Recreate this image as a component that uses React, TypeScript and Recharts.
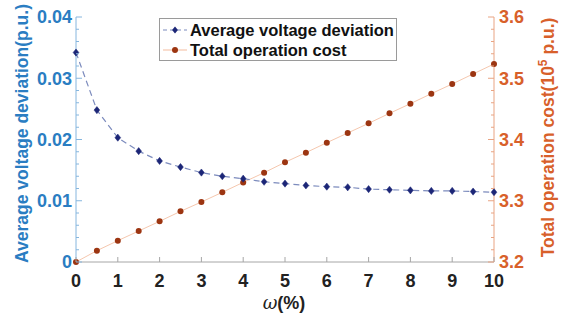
import React from 'react';
import { LineChart, Line, XAxis, YAxis, Legend } from 'recharts';

const omega = [0, 0.5, 1, 1.5, 2, 2.5, 3, 3.5, 4, 4.5, 5, 5.5, 6, 6.5, 7, 7.5, 8, 8.5, 9, 9.5, 10];
const voltageDeviation = [0.0342, 0.0248, 0.0203, 0.0181, 0.0165, 0.0155, 0.0146, 0.0140, 0.0136, 0.0131, 0.0128, 0.0125, 0.0123, 0.0122, 0.0119, 0.0118, 0.0117, 0.0116, 0.0116, 0.0115, 0.0114];
const operationCost = [3.2, 3.2185, 3.2348, 3.2506, 3.2664, 3.2827, 3.298, 3.3138, 3.330, 3.3458, 3.3628, 3.3785, 3.3948, 3.4106, 3.4264, 3.4427, 3.4585, 3.4748, 3.4906, 3.507, 3.5233];

const xTicks = [0, 1, 2, 3, 4, 5, 6, 7, 8, 9, 10];
const leftMajor = [0, 0.01, 0.02, 0.03, 0.04];
const leftTicks = [0, 0.002, 0.004, 0.006, 0.008, 0.01, 0.012, 0.014, 0.016, 0.018, 0.02, 0.022, 0.024, 0.026, 0.028, 0.03, 0.032, 0.034, 0.036, 0.038, 0.04];
const rightMajor = [3.2, 3.3, 3.4, 3.5, 3.6];
const rightTicks = [3.2, 3.22, 3.24, 3.26, 3.28, 3.3, 3.32, 3.34, 3.36, 3.38, 3.4, 3.42, 3.44, 3.46, 3.48, 3.5, 3.52, 3.54, 3.56, 3.58, 3.6];

const seriesNames = ['Average voltage deviation', 'Total operation cost'];

const data = omega.map((w, i) => ({ omega: w, dev: voltageDeviation[i], cost: operationCost[i] }));

const FONT = '"Liberation Sans", Arial, sans-serif';
const BLUE = '#2a7dc2';
const ORANGE = '#d8602a';
const BLUE_AXIS = '#86b6de';
const ORANGE_AXIS = '#e9a483';
const GRAY_AXIS = '#a6a6a6';
const NAVY = '#1c2677';
const BLUE_LINE = '#7c8bbd';
const BROWN = '#9c3511';
const ORANGE_LINE = '#f5c7ae';

const isMajor = (arr: number[], v: number) => arr.some((m) => Math.abs(m - v) < 1e-9);

const LeftTick = (props: any) => {
  const { x, y, payload } = props;
  const v = payload.value;
  const major = isMajor(leftMajor, v);
  return (
    <g>
      <line x1={x} x2={x + (major ? 6 : 3)} y1={y} y2={y} stroke={BLUE_AXIS} strokeWidth={1} />
      {major && (
        <text x={x - 4} y={y} dy="0.36em" textAnchor="end" fill={BLUE} fontSize={18} fontWeight="bold" fontFamily={FONT}>
          {v === 0 ? '0' : v.toFixed(2)}
        </text>
      )}
    </g>
  );
};

const RightTick = (props: any) => {
  const { x, y, payload } = props;
  const v = payload.value;
  const major = isMajor(rightMajor, v);
  return (
    <g>
      <line x1={x} x2={x - (major ? 6 : 3)} y1={y} y2={y} stroke={ORANGE_AXIS} strokeWidth={1} />
      {major && (
        <text x={x + 5} y={y} dy="0.36em" textAnchor="start" fill={ORANGE} fontSize={18} fontWeight="bold" fontFamily={FONT}>
          {v.toFixed(1)}
        </text>
      )}
    </g>
  );
};

const BottomTick = (props: any) => {
  const { x, y, payload } = props;
  return (
    <g>
      <line x1={x} x2={x} y1={y} y2={y - 5} stroke={GRAY_AXIS} strokeWidth={1} />
      <text x={x} y={y + 12} dy="0.71em" textAnchor="middle" fill="#222" fontSize={18} fontWeight="bold" fontFamily={FONT}>
        {String(payload.value)}
      </text>
    </g>
  );
};

const TopTick = (props: any) => {
  const { x, y } = props;
  return <line x1={x} x2={x} y1={y} y2={y + 5} stroke={GRAY_AXIS} strokeWidth={1} />;
};

const LeftTitle = (props: any) => {
  const vb = props.viewBox || { x: 0, y: 17, width: 76, height: 245 };
  const cx = vb.x + 22;
  const cy = vb.y + vb.height / 2 - 6;
  return (
    <text x={cx} y={cy} transform={`rotate(-90, ${cx}, ${cy})`} textAnchor="middle" dy="0.36em" fill={BLUE} fontSize={17.5} fontWeight="bold" fontFamily={FONT}>
      Average voltage deviation(p.u.)
    </text>
  );
};

const RightTitle = (props: any) => {
  const vb = props.viewBox || { x: 494, y: 17, width: 75, height: 245 };
  const cx = vb.x + 54;
  const cy = vb.y + vb.height / 2 - 2;
  return (
    <text x={cx} y={cy} transform={`rotate(-90, ${cx}, ${cy})`} textAnchor="middle" dy="0.36em" fill={ORANGE} fontSize={17.5} fontWeight="bold" fontFamily={FONT}>
      Total operation cost(10
      <tspan fontSize={12} dy={-7}>5</tspan>
      <tspan dy={7}> p.u.)</tspan>
    </text>
  );
};

const BottomTitle = (props: any) => {
  const vb = props.viewBox || { x: 76, y: 262, width: 418, height: 60 };
  const cx = vb.x + vb.width / 2 - 1;
  const cy = vb.y + 41;
  return (
    <text x={cx} y={cy} dy="0.36em" textAnchor="middle" fill="#222" fontSize={18} fontWeight="bold" fontFamily={FONT}>
      <tspan fontStyle="italic" fontWeight="normal" fontFamily='"DejaVu Serif", "Liberation Serif", serif'>ω</tspan>(%)
    </text>
  );
};

const Diamond = (props: any) => {
  const { cx, cy } = props;
  if (cx == null || cy == null) return null;
  const s = 3.6;
  return <polygon points={`${cx},${cy - s} ${cx + s * 0.8},${cy} ${cx},${cy + s} ${cx - s * 0.8},${cy}`} fill={NAVY} stroke={NAVY} strokeWidth={0.5} />;
};

const Dot = (props: any) => {
  const { cx, cy } = props;
  if (cx == null || cy == null) return null;
  return <circle cx={cx} cy={cy} r={3} fill={BROWN} />;
};

const LegendBox = () => (
  <div
    style={{
      width: 236,
      height: 41,
      border: '1px solid #9a9a9a',
      background: '#fff',
      boxSizing: 'content-box',
      fontFamily: FONT,
      fontWeight: 'bold',
      fontSize: 16.5,
      color: '#111',
    }}
  >
    <div style={{ display: 'flex', alignItems: 'center', height: 20, marginTop: 1 }}>
      <svg width={30} height={20} style={{ display: 'block' }}>
        <line x1={3} x2={27} y1={10} y2={10} stroke={BLUE_LINE} strokeWidth={1.2} strokeDasharray="4 3" />
        <polygon points="15,6.4 17.9,10 15,13.6 12.1,10" fill={NAVY} />
      </svg>
      <span style={{ lineHeight: '20px' }}>{seriesNames[0]}</span>
    </div>
    <div style={{ display: 'flex', alignItems: 'center', height: 20 }}>
      <svg width={30} height={20} style={{ display: 'block' }}>
        <line x1={3} x2={27} y1={10} y2={10} stroke={ORANGE_LINE} strokeWidth={1.2} />
        <circle cx={15} cy={10} r={3} fill={BROWN} />
      </svg>
      <span style={{ lineHeight: '20px' }}>{seriesNames[1]}</span>
    </div>
  </div>
);

export default function App() {
  return (
    <div style={{ position: 'absolute', left: 0, top: 0, width: 569, height: 322, background: '#fff' }}>
      <LineChart width={569} height={322} data={data} margin={{ top: 17, right: 0, bottom: 0, left: 0 }}>
        <XAxis
          xAxisId="bottom"
          dataKey="omega"
          type="number"
          domain={[0, 10]}
          ticks={xTicks}
          interval={0}
          height={60}
          tickSize={0}
          tickMargin={0}
          tickLine={false}
          axisLine={{ stroke: GRAY_AXIS }}
          tick={<BottomTick />}
          label={<BottomTitle />}
        />
        <XAxis
          xAxisId="top"
          orientation="top"
          dataKey="omega"
          type="number"
          domain={[0, 10]}
          ticks={xTicks}
          interval={0}
          height={0}
          tickSize={0}
          tickMargin={0}
          tickLine={false}
          axisLine={{ stroke: GRAY_AXIS }}
          tick={<TopTick />}
        />
        <YAxis
          yAxisId="left"
          orientation="left"
          type="number"
          domain={[0, 0.04]}
          ticks={leftTicks}
          interval={0}
          width={76}
          tickSize={0}
          tickMargin={0}
          tickLine={false}
          axisLine={{ stroke: BLUE_AXIS }}
          tick={<LeftTick />}
          label={<LeftTitle />}
        />
        <YAxis
          yAxisId="right"
          orientation="right"
          type="number"
          domain={[3.2, 3.6]}
          ticks={rightTicks}
          interval={0}
          width={75}
          tickSize={0}
          tickMargin={0}
          tickLine={false}
          axisLine={{ stroke: ORANGE_AXIS }}
          tick={<RightTick />}
          label={<RightTitle />}
        />
        <Legend
          layout="vertical"
          align="center"
          verticalAlign="middle"
          wrapperStyle={{ position: 'absolute', left: 159, top: 18, width: 238, height: 43 }}
          content={<LegendBox />}
        />
        <Line
          xAxisId="bottom"
          yAxisId="right"
          dataKey="cost"
          name={seriesNames[1]}
          type="linear"
          stroke={ORANGE_LINE}
          strokeWidth={1}
          dot={<Dot />}
          activeDot={false}
          isAnimationActive={false}
        />
        <Line
          xAxisId="bottom"
          yAxisId="left"
          dataKey="dev"
          name={seriesNames[0]}
          type="linear"
          stroke={BLUE_LINE}
          strokeWidth={1.2}
          strokeDasharray="6 4"
          dot={<Diamond />}
          activeDot={false}
          isAnimationActive={false}
        />
      </LineChart>
    </div>
  );
}
